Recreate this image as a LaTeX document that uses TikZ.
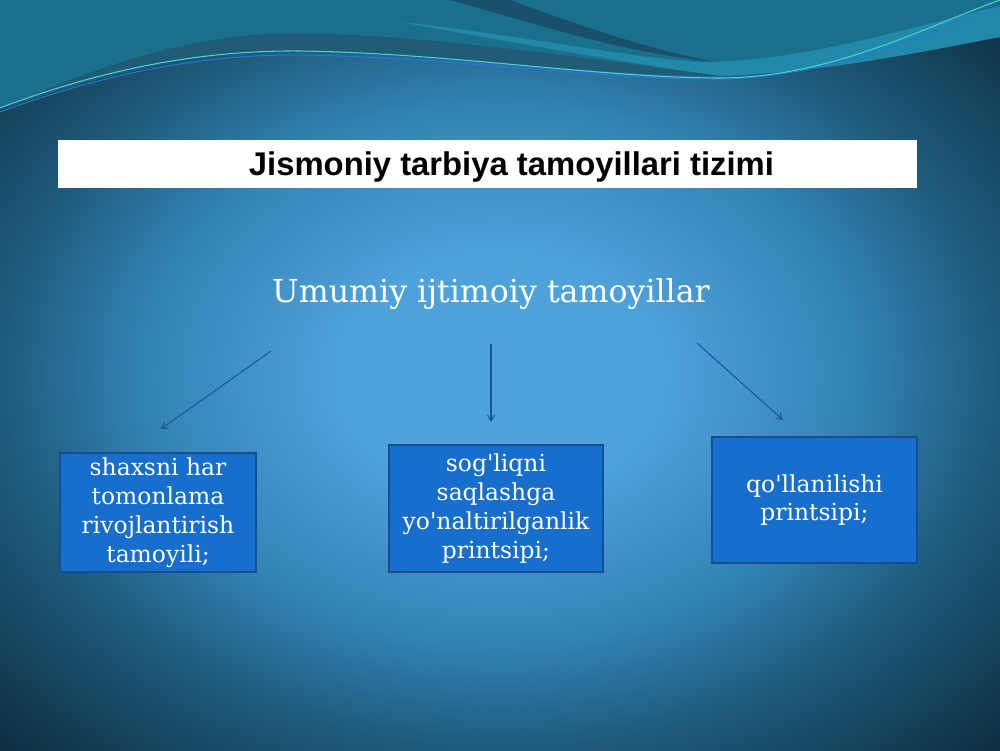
\documentclass[tikz,border=0pt]{standalone}
\usepackage{fontspec}
\newfontfamily\slidefont{DejaVu Serif}
\newfontfamily\headfont{Liberation Sans}
\usetikzlibrary{arrows.meta, positioning}

\definecolor{bgin}{RGB}{78,162,218}
\definecolor{bgmid}{RGB}{50,130,180}
\definecolor{bgedge}{RGB}{30,90,122}
\definecolor{bgcorner}{RGB}{12,42,60}
\definecolor{wavetop}{RGB}{26,112,140}
\definecolor{wavelight}{RGB}{34,138,168}
\definecolor{wavestreak}{RGB}{24,80,106}
\definecolor{waveband}{RGB}{32,92,118}
\definecolor{wavecyan}{RGB}{70,210,215}
\definecolor{waveblue}{RGB}{40,120,215}
\definecolor{boxfill}{RGB}{24,110,205}
\definecolor{boxline}{RGB}{22,78,145}
\definecolor{arrowcol}{RGB}{28,84,158}

\pgfdeclareradialshading{slidebg}{\pgfpoint{0bp}{0bp}}{%
  color(0bp)=(bgin); color(8bp)=(bgin); color(18bp)=(bgmid);
  color(25bp)=(bgedge); color(36bp)=(bgcorner)}

\begin{document}
\begin{tikzpicture}[
        x=0.03cm, y=-0.03cm,
        box/.style={rectangle, draw=boxline, line width=1.6pt, fill=boxfill,
            text=white, align=center, inner sep=0pt,
            font=\slidefont\fontsize{20}{24.7}\selectfont},
        arrow/.style={-{Straight Barb[length=5pt, width=6pt]}, draw=arrowcol, line width=0.9pt}
    ]
        % Background
        \shade[shading=slidebg] (0,0) rectangle (1000,750);
        \useasboundingbox (0,0) rectangle (1000,750);

        % Waves at the top
        \fill[wavetop] (0,0) -- (0,108) -- (30,97) .. controls (100,65) and (190,38) .. (270,34)
            .. controls (400,30) and (600,60) .. (720,76)
            .. controls (830,72) and (930,50) .. (1000,37) -- (1000,0) -- cycle;
        \fill[wavelight] (400,22) .. controls (520,35) and (630,58) .. (700,62)
            .. controls (800,62) and (900,30) .. (1000,6) -- (1000,37)
            .. controls (930,50) and (830,72) .. (720,76)
            .. controls (620,62) and (500,40) .. (400,22) -- cycle;
        \fill[wavestreak] (450,0) .. controls (540,25) and (620,52) .. (715,62)
            .. controls (630,45) and (560,18) .. (510,0) -- cycle;
        \fill[waveband] (30,97) .. controls (100,65) and (190,38) .. (270,34)
            .. controls (400,30) and (600,60) .. (720,76)
            .. controls (600,76) and (450,55) .. (300,52)
            .. controls (200,50) and (100,75) .. (0,110) -- cycle;
        \draw[waveblue, line width=0.8pt] (0,112) .. controls (100,75) and (200,54) .. (300,55)
            .. controls (450,57) and (600,80) .. (720,79)
            .. controls (830,78) and (930,30) .. (1000,8);
        \draw[wavecyan, line width=0.9pt] (0,108) .. controls (100,70) and (200,50) .. (300,51)
            .. controls (450,53) and (600,78) .. (720,78)
            .. controls (830,78) and (930,25) .. (1000,0);

        % Title
        \node[rectangle, fill=white, minimum width=25.77cm, minimum height=1.44cm, inner sep=0pt]
            (bar) at (487.5,164) {};
        \node[font=\headfont\bfseries\fontsize{28}{32}\selectfont, text=black]
            (title) at (511.5,167) {Jismoniy tarbiya tamoyillari tizimi};

        % Subtitle
        \node[font=\slidefont\fontsize{27}{32}\selectfont, text=white] (sub) at (491,294)
            {Umumiy ijtimoiy tamoyillar};

        % Boxes
        \node[box, minimum width=5.88cm, minimum height=3.57cm] (shaxs) at (158,512.5)
            {shaxsni har\\tomonlama\\rivojlantirish\\tamoyili;};
        \node[box, minimum width=6.42cm, minimum height=3.81cm] (sogliq) at (496,508.5)
            {sog'liqni\\saqlashga\\yo'naltirilganlik\\printsipi;};
        \node[box, minimum width=6.15cm, minimum height=3.78cm] (qollash) at (814.5,500)
            {qo'llanilishi\\printsipi;};

        % Arrow ends
        \coordinate (a1) at (271,351);
        \coordinate (b1) at (161,429);
        \coordinate (a2) at (491,344);
        \coordinate (b2) at (491,422);
        \coordinate (a3) at (697,343);
        \coordinate (b3) at (783,420);

        % Arrows
        \draw[arrow] (a1) -- (b1);
        \draw[arrow] (a2) -- (b2);
        \draw[arrow] (a3) -- (b3);
    \end{tikzpicture}
\end{document}
